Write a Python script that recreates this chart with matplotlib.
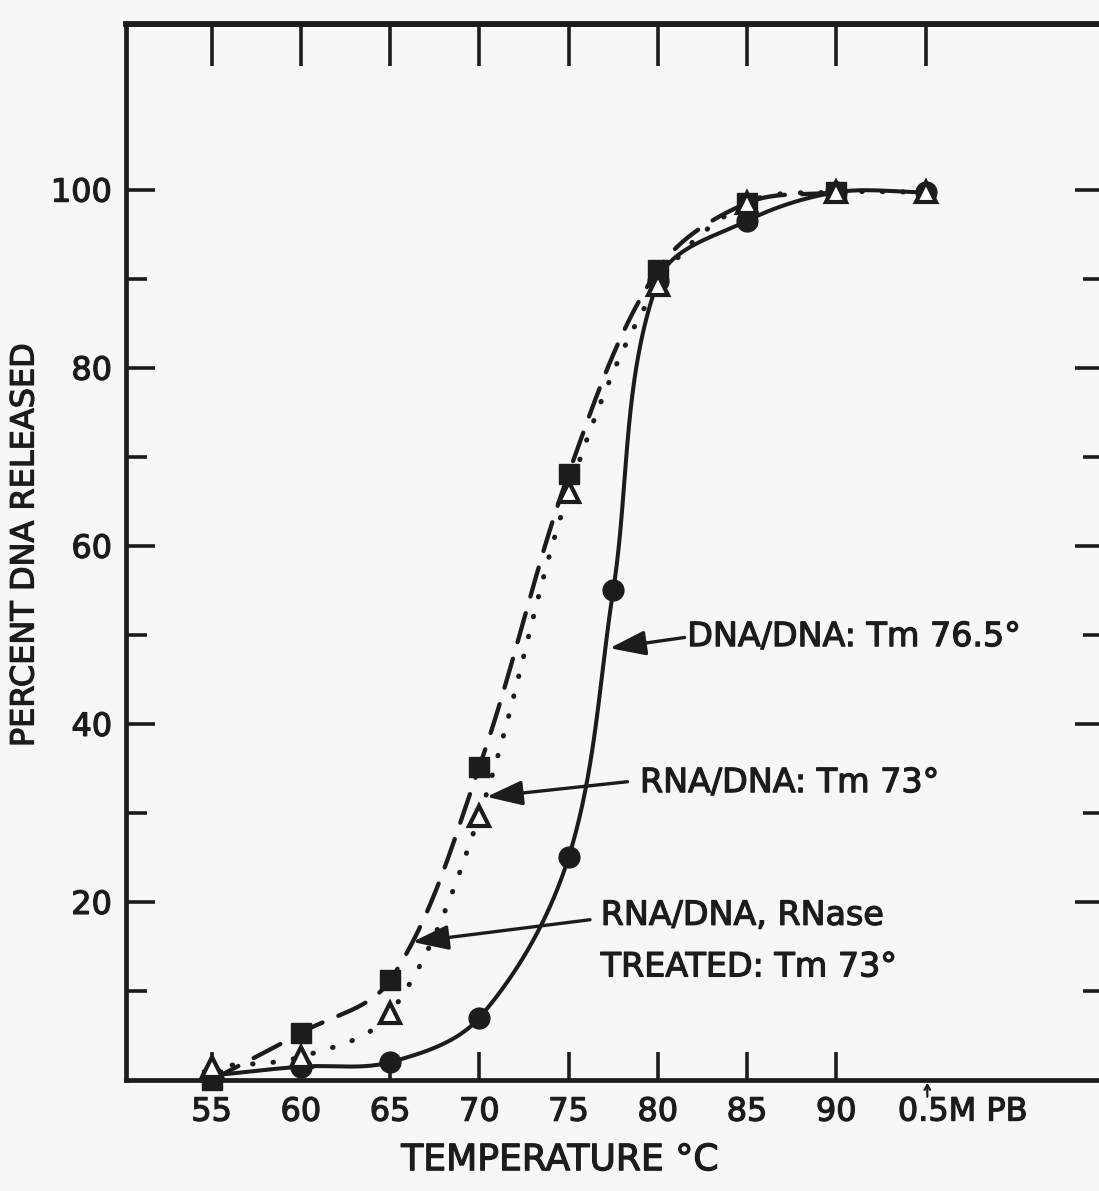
import numpy as np
import matplotlib
matplotlib.use("Agg")
import matplotlib.pyplot as plt
import matplotlib.patheffects as pe
from matplotlib.ticker import FixedLocator

# Melting (release) data, percent DNA released vs temperature (deg C)
temps_dna = [55, 60, 65, 70, 75, 77.5, 80, 85, 90, 95]
pct_dna = [0.5, 1.5, 2.0, 7.0, 25.0, 55.0, 89.7, 96.5, 99.7, 99.7]

temps_rna = [55, 60, 65, 70, 75, 80, 85, 90, 95]
pct_rna = [1.5, 2.6, 7.5, 29.7, 66.0, 89.3, 98.5, 99.7, 99.7]

temps_rnase = [55, 60, 65, 70, 75, 80, 85, 90]
pct_rnase = [0.0, 5.3, 11.2, 35.2, 68.1, 91.0, 98.5, 99.7]

x_ticks = [55, 60, 65, 70, 75, 80, 85, 90]
x_tick_labels = ["55", "60", "65", "70", "75", "80", "85", "90"]
y_major = [20, 40, 60, 80, 100]
y_minor = [10, 30, 50, 70, 90]

INK = "#1c1c1c"
PAPER = "#f7f7f5"

plt.rcParams["font.family"] = ["DejaVu Sans"]
THICK = [pe.withStroke(linewidth=0.9, foreground=INK)]


def smooth_curve(x, y, sx=17.9, sy=8.9, n=60):
    """Parametric cubic Hermite curve through the points, with chord-length
    tangents computed in a roughly isotropic (screen-like) scaling."""
    p = np.column_stack([np.asarray(x, float) * sx, np.asarray(y, float) * sy])
    k = len(p)
    tang = np.empty_like(p)
    for i in range(k):
        a = p[max(i - 1, 0)]
        b = p[min(i + 1, k - 1)]
        v = b - a
        tang[i] = v / np.hypot(*v)
    tang[-1] = [1.0, 0.0] if abs(p[-1, 1] - p[-2, 1]) < 1e-9 else tang[-1]
    out = []
    t = np.linspace(0, 1, n)[:, None]
    h00 = 2 * t**3 - 3 * t**2 + 1
    h10 = t**3 - 2 * t**2 + t
    h01 = -2 * t**3 + 3 * t**2
    h11 = t**3 - t**2
    for i in range(k - 1):
        L = np.hypot(*(p[i + 1] - p[i]))
        seg = h00 * p[i] + h10 * L * tang[i] + h01 * p[i + 1] + h11 * L * tang[i + 1]
        out.append(seg if i == 0 else seg[1:])
    out = np.vstack(out)
    return out[:, 0] / sx, out[:, 1] / sy


fig = plt.figure(figsize=(10.99, 11.91), dpi=100, facecolor=PAPER)
ax = fig.add_axes([126 / 1099, 1 - 1080 / 1191,
                   (1104 - 126) / 1099, (1080 - 24) / 1191])
ax.set_facecolor(PAPER)
ax.set_xlim(50.2, 105)
ax.set_ylim(0, 118.6)

# curves
xs, ys = smooth_curve(temps_dna, pct_dna)
ax.plot(xs, ys, color=INK, lw=2.9, solid_capstyle="round", zorder=3)
xs, ys = smooth_curve(temps_rnase, pct_rnase)
ax.plot(xs, ys, color=INK, lw=3.1, dashes=(7, 4), dash_capstyle="round", zorder=3)
xs, ys = smooth_curve(temps_rna, pct_rna)
ax.plot(xs, ys, color=INK, lw=3.6, dashes=(0.1, 4.0), dash_capstyle="round", zorder=3)

# markers
ax.plot(temps_dna, pct_dna, "o", ms=15, color=INK, mec=INK, zorder=4, clip_on=False)
ax.plot(temps_rnase, pct_rnase, "s", ms=14, color=INK, mec=INK, zorder=5, clip_on=False)
ax.plot(temps_rna, pct_rna, "^", ms=14, mfc="white", mec=INK, mew=3.0, zorder=6,
        clip_on=False)

# frame
for side in ["left", "right", "bottom", "top"]:
    ax.spines[side].set_linewidth(3.4)
    ax.spines[side].set_color(INK)

ax.set_xticks(x_ticks)
ax.set_xticklabels(x_tick_labels)
ax.tick_params(axis="x", direction="in", length=20, width=2.6, color=INK,
               top=False, bottom=True, labelsize=23, labelcolor=INK, pad=12)
ax.yaxis.set_major_locator(FixedLocator(y_major))
ax.yaxis.set_minor_locator(FixedLocator(y_minor))
ax.tick_params(axis="y", which="major", direction="in", length=21, width=2.6,
               color=INK, left=True, right=True, labelsize=23, labelcolor=INK, pad=10)
ax.tick_params(axis="y", which="minor", direction="in", length=15, width=2.6,
               color=INK, left=True, right=True)
for lab in ax.get_xticklabels() + ax.get_yticklabels():
    lab.set_path_effects(THICK)

top = ax.secondary_xaxis("top")
top.set_xticks(x_ticks + [95])
top.tick_params(direction="in", length=30, width=2.6, color=INK, labeltop=False)
top.spines["top"].set_linewidth(4.2)
top.spines["top"].set_color(INK)

fig.text(25 / 1099, 1 - 545 / 1191, "PERCENT DNA RELEASED", fontsize=23,
         color=INK, rotation=90, ha="center", va="center", path_effects=THICK)
ax.text(74.5, -9.0, "TEMPERATURE \u00b0C", fontsize=26, color=INK,
        ha="center", va="center", clip_on=False, path_effects=THICK)

# salt condition marker under the axis
ax.text(93.45, -3.6, "0.5M PB", fontsize=23, color=INK, ha="left", va="center",
        clip_on=False, path_effects=THICK)
ax.annotate("", xy=(95.1, 0.0), xytext=(95.1, -2.2),
            arrowprops=dict(arrowstyle="->,head_length=0.35,head_width=0.2",
                            lw=1.6, color=INK), annotation_clip=False)

# Tm call-outs
arrow_kw = dict(arrowstyle="-|>,head_length=1.1,head_width=0.38",
                lw=2.4, color=INK, shrinkA=0, shrinkB=0, mutation_scale=20)
ax.annotate("", xy=(77.3, 48.5), xytext=(81.5, 49.7), arrowprops=arrow_kw, zorder=7)
ax.text(81.65, 49.8, "DNA/DNA: Tm 76.5\u00b0", fontsize=24, color=INK,
        ha="left", va="center", path_effects=THICK)

ax.annotate("", xy=(70.4, 31.8), xytext=(78.3, 33.5), arrowprops=arrow_kw, zorder=7)
ax.text(79.0, 33.4, "RNA/DNA: Tm 73\u00b0", fontsize=24, color=INK,
        ha="left", va="center", path_effects=THICK)

ax.annotate("", xy=(66.25, 15.5), xytext=(76.2, 18.0), arrowprops=arrow_kw, zorder=7)
ax.text(76.8, 18.5, "RNA/DNA, RNase", fontsize=24, color=INK,
        ha="left", va="center", path_effects=THICK)
ax.text(76.8, 12.7, "TREATED: Tm 73\u00b0", fontsize=24, color=INK,
        ha="left", va="center", path_effects=THICK)

fig.savefig("out.png", dpi=100, facecolor=PAPER)
